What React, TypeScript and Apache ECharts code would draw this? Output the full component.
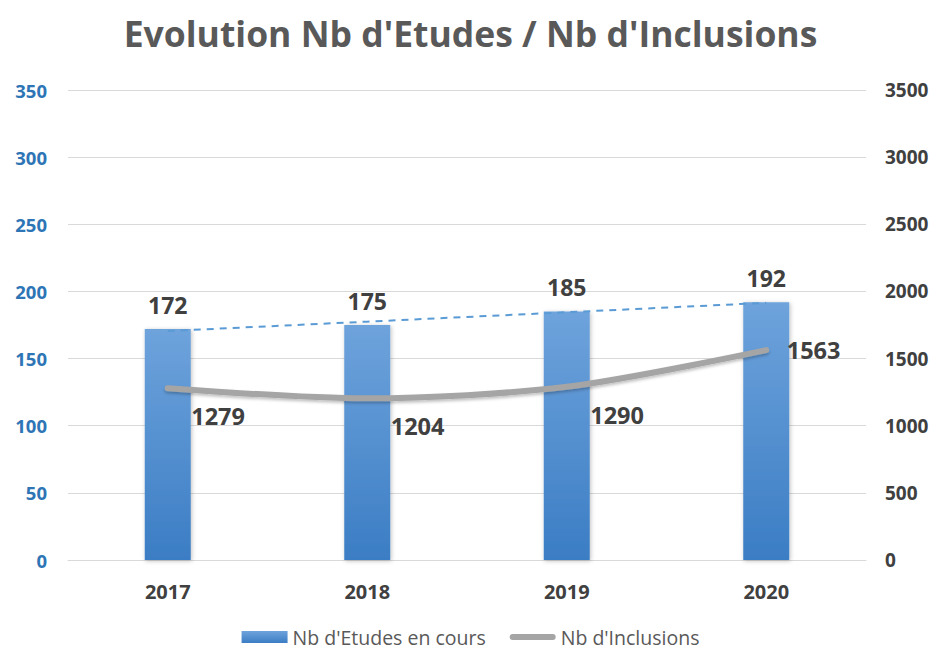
import React, { useEffect, useRef } from "react";
import * as echarts from "echarts";

const categories = ["2017", "2018", "2019", "2020"];
const etudes = [172, 175, 185, 192];
const inclusions = [1279, 1204, 1290, 1563];
const leftTicks = [0, 350, 50];
const rightTicks = [0, 3500, 500];

// linear trendline (Excel-style least squares) over the bar values
function trend(vals: number[]): number[] {
  const n = vals.length;
  const xs = vals.map((_, i) => i + 1);
  const mx = xs.reduce((a, b) => a + b, 0) / n;
  const my = vals.reduce((a, b) => a + b, 0) / n;
  let num = 0, den = 0;
  for (let i = 0; i < n; i++) { num += (xs[i] - mx) * (vals[i] - my); den += (xs[i] - mx) ** 2; }
  const s = num / den;
  return xs.map((x) => my + s * (x - mx));
}

const FONT = "'Open Sans', 'Noto Sans', sans-serif";

export default function App() {
  const ref = useRef<HTMLDivElement>(null);
  useEffect(() => {
    const chart = echarts.init(ref.current!, null, { renderer: "svg" });
    const trendVals = trend(etudes);
    chart.setOption({
      animation: false,
      backgroundColor: "#fff",
      title: {
        text: "Evolution Nb d'Etudes / Nb d'Inclusions",
        left: "center",
        top: 10,
        textStyle: { fontFamily: FONT, fontSize: 35.5, fontWeight: "bold", color: "#595959" },
      },
      legend: {
        top: 624,
        left: "center",
        padding: [2, 5, 2, 5],
        itemWidth: 46,
        itemHeight: 12,
        itemGap: 24,
        textStyle: { fontFamily: FONT, fontSize: 19.5, lineHeight: 22, color: "#595959" },
        data: [
          { name: "Nb d'Etudes en cours", icon: "rect" },
          { name: "Nb d'Inclusions", icon: "path://M3,0 L43,0 A3,3 0 0 1 43,6 L3,6 A3,3 0 0 1 3,0 Z" },
        ],
      },
      grid: { left: 68, right: 75, top: 90, bottom: 94 },
      xAxis: {
        type: "category",
        data: categories,
        axisLine: { lineStyle: { color: "#d9d9d9" } },
        axisTick: { show: false },
        axisLabel: { fontFamily: FONT, fontSize: 20, fontWeight: "bold", color: "#404040", margin: 21 },
      },
      yAxis: [
        {
          type: "value",
          min: leftTicks[0], max: leftTicks[1], interval: leftTicks[2],
          splitLine: { lineStyle: { color: "#d9d9d9", width: 1 } },
          axisLine: { show: false },
          axisTick: { show: false },
          axisLabel: { fontFamily: FONT, fontSize: 18.5, fontWeight: "bold", color: "#2E75B6", margin: 21 },
        },
        {
          type: "value",
          min: rightTicks[0], max: rightTicks[1], interval: rightTicks[2],
          splitLine: { show: false },
          axisLine: { show: false },
          axisTick: { show: false },
          axisLabel: {
            fontFamily: FONT, fontSize: 19, fontWeight: "bold", color: "#404040", margin: 19,
            formatter: (v: number) => String(v),
          },
        },
      ],
      series: [
        {
          name: "Nb d'Etudes en cours",
          type: "bar",
          data: etudes,
          barWidth: 46,
          itemStyle: {
            color: new echarts.graphic.LinearGradient(0, 0, 0, 1, [
              { offset: 0, color: "#6ea3dc" },
              { offset: 1, color: "#3b7dc4" },
            ]),
            shadowColor: "rgba(0,0,0,0.25)",
            shadowBlur: 4,
            shadowOffsetX: 1,
            shadowOffsetY: 1,
          },
          label: {
            show: true,
            position: "top",
            distance: 13,
            fontFamily: FONT, fontSize: 23, fontWeight: "bold", color: "#404040",
          },
          z: 2,
        },
        {
          name: "trend",
          type: "line",
          data: trendVals,
          symbol: "none",
          lineStyle: { color: "#5B9BD5", width: 2, type: [7, 6] },
          silent: true,
          z: 3,
        },
        {
          name: "Nb d'Inclusions",
          type: "line",
          yAxisIndex: 1,
          data: inclusions.map((v, i) => ({
            value: v,
            label: i === inclusions.length - 1 ? { position: "right", offset: [15, 0] } : { position: "right", offset: [18, 28] },
          })),
          smooth: 0.3,
          symbol: "circle",
          symbolSize: 1,
          showSymbol: true,
          itemStyle: { color: "#A5A5A5" },
          lineStyle: { color: "#A5A5A5", width: 6, cap: "round", shadowColor: "rgba(0,0,0,0.25)", shadowBlur: 3, shadowOffsetY: 2 },
          label: {
            show: true,
            fontFamily: FONT, fontSize: 23.5, fontWeight: "bold", color: "#404040",
          },
          z: 4,
        },
      ],
    });
    return () => chart.dispose();
  }, []);
  return <div ref={ref} style={{ position: "absolute", left: 0, top: 0, width: 941, height: 654 }} />;
}
